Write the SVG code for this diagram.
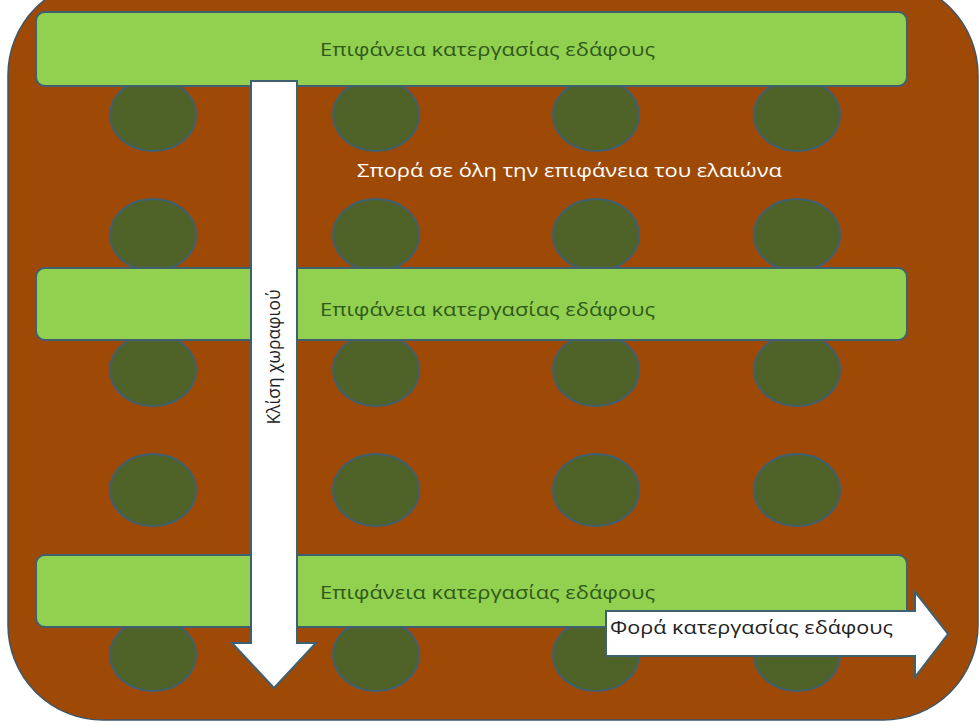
<svg xmlns="http://www.w3.org/2000/svg" width="980" height="726" viewBox="0 0 980 726">
<style>
.bar{fill:#92D050;stroke:#3E6070;stroke-width:2}
.tree{fill:#4F6228;stroke:#3E6070;stroke-width:2}
.bt{font-family:"Open Sans","Liberation Sans",sans-serif;font-size:19px;fill:#2F5A1A}
.arr{fill:#FFFFFF;stroke:#3E6070;stroke-width:2}
</style>
<rect width="980" height="726" fill="#FFFFFF"/>
<g id="field">
<rect x="8" y="-20" width="970" height="740" rx="95" ry="95" fill="#9E4A06" stroke="#3E5566" stroke-width="1.5"/>
</g>
<g id="trees">
<ellipse class="tree" cx="153" cy="115" rx="43" ry="36"/>
<ellipse class="tree" cx="376" cy="115" rx="43" ry="36"/>
<ellipse class="tree" cx="596" cy="115" rx="43" ry="36"/>
<ellipse class="tree" cx="797" cy="115" rx="43" ry="36"/>
<ellipse class="tree" cx="153" cy="235" rx="43" ry="36"/>
<ellipse class="tree" cx="376" cy="235" rx="43" ry="36"/>
<ellipse class="tree" cx="596" cy="235" rx="43" ry="36"/>
<ellipse class="tree" cx="797" cy="235" rx="43" ry="36"/>
<ellipse class="tree" cx="153" cy="370" rx="43" ry="36"/>
<ellipse class="tree" cx="376" cy="370" rx="43" ry="36"/>
<ellipse class="tree" cx="596" cy="370" rx="43" ry="36"/>
<ellipse class="tree" cx="797" cy="370" rx="43" ry="36"/>
<ellipse class="tree" cx="153" cy="490" rx="43" ry="36"/>
<ellipse class="tree" cx="376" cy="490" rx="43" ry="36"/>
<ellipse class="tree" cx="596" cy="490" rx="43" ry="36"/>
<ellipse class="tree" cx="797" cy="490" rx="43" ry="36"/>
<ellipse class="tree" cx="153" cy="655" rx="43" ry="36"/>
<ellipse class="tree" cx="376" cy="655" rx="43" ry="36"/>
<ellipse class="tree" cx="596" cy="655" rx="43" ry="36"/>
<ellipse class="tree" cx="797" cy="655" rx="43" ry="36"/>
</g>
<g id="bar1">
<rect class="bar" x="36" y="12" width="871" height="74" rx="9"/>
<text class="bt" x="320" y="56" textLength="335" lengthAdjust="spacingAndGlyphs">Επιφάνεια κατεργασίας εδάφους</text>
</g>
<g id="bar2">
<rect class="bar" x="36" y="268" width="871" height="72" rx="9"/>
<text class="bt" x="320" y="316" textLength="335" lengthAdjust="spacingAndGlyphs">Επιφάνεια κατεργασίας εδάφους</text>
</g>
<g id="bar3">
<rect class="bar" x="36" y="555" width="871" height="72" rx="9"/>
<text class="bt" x="320" y="599" textLength="335" lengthAdjust="spacingAndGlyphs">Επιφάνεια κατεργασίας εδάφους</text>
</g>
<g id="sowing">
<text x="357" y="177" textLength="425" lengthAdjust="spacingAndGlyphs" font-family="'Open Sans','Liberation Sans',sans-serif" font-size="19" fill="#FFFFFF">Σπορά σε όλη την επιφάνεια του ελαιώνα</text>
</g>
<g id="connectors">
<g id="slope">
<path class="arr" d="M251,81 H297 V643 H316 L274,688 L232,643 H251 Z"/>
<text transform="translate(280,357) rotate(-90)" text-anchor="middle" textLength="135" lengthAdjust="spacingAndGlyphs" font-family="'Open Sans','Liberation Sans',sans-serif" font-size="18" fill="#222222">Κλίση χωραφιού</text>
</g>
<g id="direction">
<path class="arr" d="M606,611 H915 V592 L948,634 L915,677 V656 H606 Z"/>
<text x="610" y="634" textLength="283" lengthAdjust="spacingAndGlyphs" font-family="'Open Sans','Liberation Sans',sans-serif" font-size="19" fill="#222222">Φορά κατεργασίας εδάφους</text>
</g>
</g>
</svg>
